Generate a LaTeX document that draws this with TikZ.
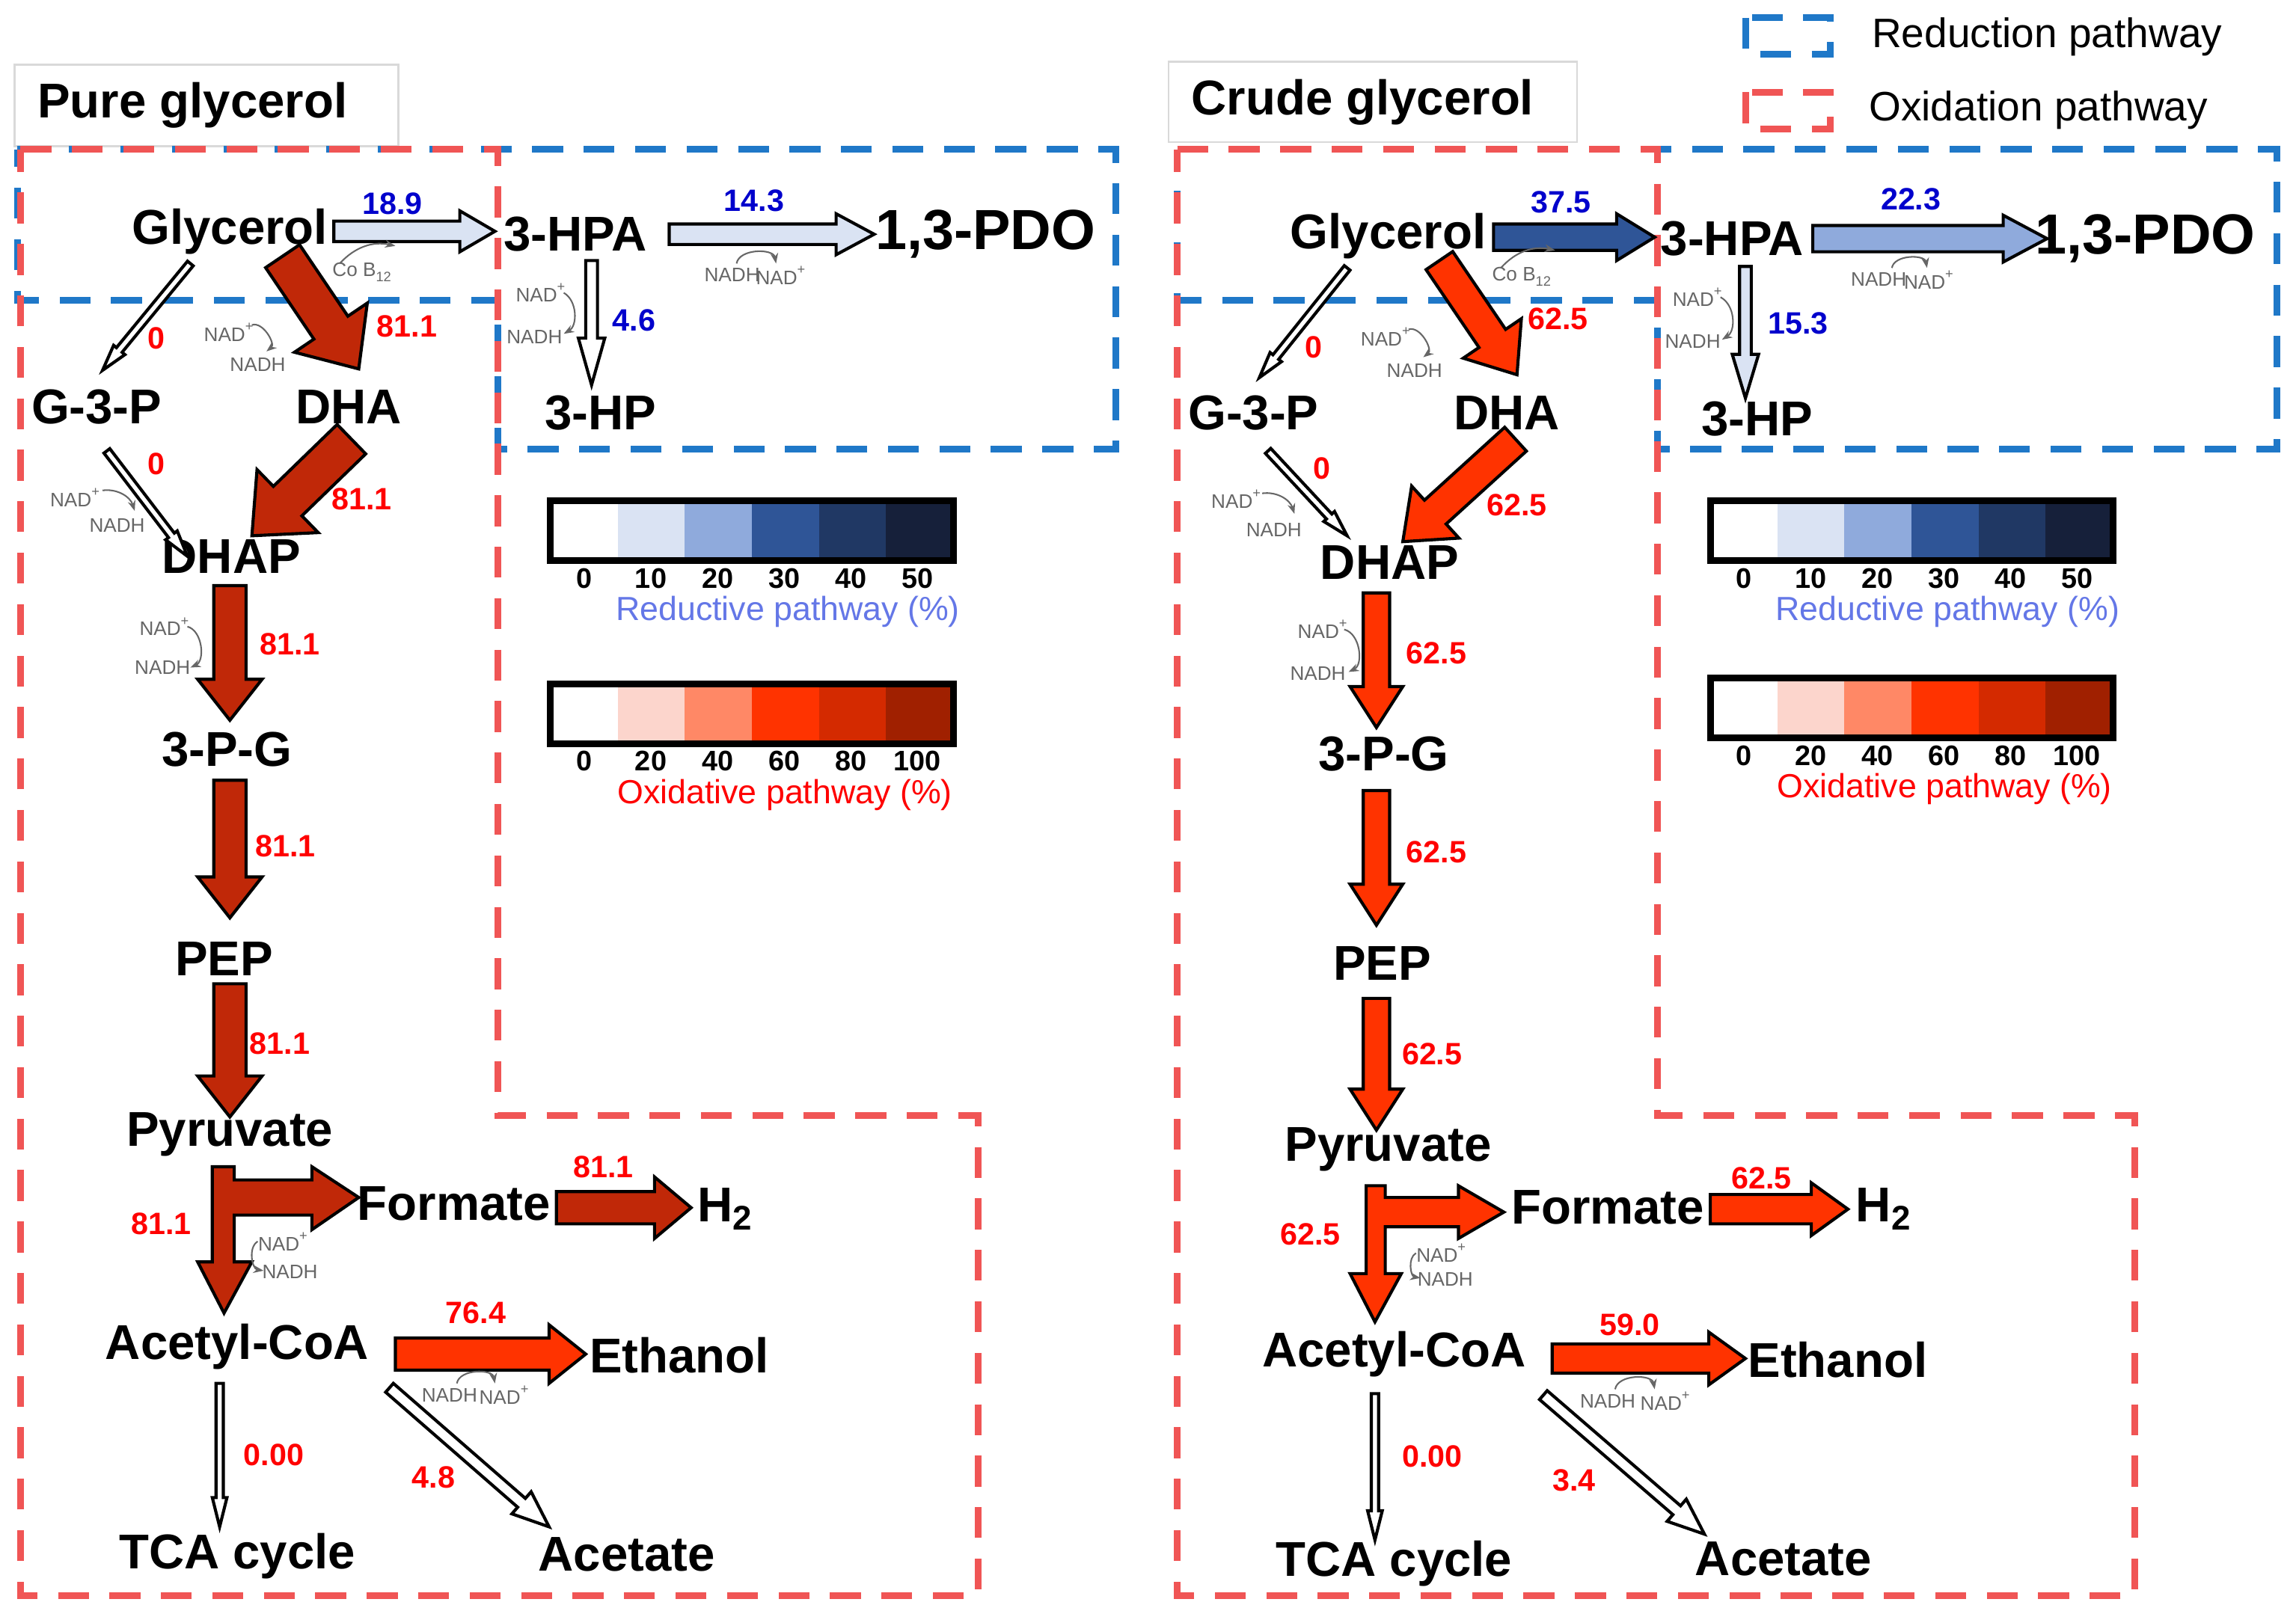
\documentclass[tikz,border=0pt]{standalone}
\usepackage{fontspec}
\setmainfont{Liberation Sans}
\usetikzlibrary{arrows.meta}
\definecolor{dred}{HTML}{C02808}
\definecolor{ored}{HTML}{FF3300}
\definecolor{b1}{HTML}{DAE3F3}\definecolor{b2}{HTML}{8FAADC}\definecolor{b3}{HTML}{2F5597}
\definecolor{b4}{HTML}{203864}\definecolor{b5}{HTML}{16203A}
\definecolor{r1}{HTML}{FCD5CC}\definecolor{r2}{HTML}{FF8866}\definecolor{r3}{HTML}{FF3300}
\definecolor{r4}{HTML}{D42A00}\definecolor{r5}{HTML}{A02000}
\definecolor{dblue}{HTML}{1F78C8}\definecolor{dredd}{HTML}{F05555}
\newcommand\barr[8]{%
 \pgfmathsetmacro\bdx{#3-#1}\pgfmathsetmacro\bdy{#4-#2}%
 \pgfmathsetmacro\blen{veclen(\bdx,\bdy)}\pgfmathsetmacro\bang{atan2(-\bdy,\bdx)}%
 \pgfmathsetmacro\bb{\blen-#7}%
 \begin{scope}[shift={(#1,#2)},rotate=\bang]
 \draw[fill=#8,line width=0.6pt,line join=miter] (0,-#5)--(\bb,-#5)--(\bb,-#6)--(\blen,0)--(\bb,#6)--(\bb,#5)--(0,#5)--cycle;
 \end{scope}}
\newcommand\nadp{NAD\textsuperscript{+}}
\tikzset{
 met/.style={font=\fontsize{9.5}{10}\selectfont\bfseries, inner sep=0pt},
 rl/.style={font=\fontsize{6}{6}\selectfont\bfseries, text=red, inner sep=0pt},
 bl/.style={font=\fontsize{6}{6}\selectfont\bfseries, text=blue!80!black, inner sep=0pt},
 cf/.style={font=\fontsize{3.8}{4}\selectfont, text=gray!80!black, inner sep=0pt},
 tk/.style={font=\fontsize{5.5}{6}\selectfont\bfseries, inner sep=0pt},
 redd/.style={draw=dredd, line width=1.3pt, dash pattern=on 6pt off 4pt},
 blud/.style={draw=dblue, line width=1.3pt, dash pattern=on 6pt off 4pt},
 cfa/.style={gray!80!black, line width=0.3pt, -{Stealth[length=2pt]}},
 ttl/.style={font=\fontsize{9.5}{10}\selectfont\bfseries, draw=gray!30, minimum height=5.5mm, anchor=north west, inner sep=0pt, align=left}
}
\begin{document}
\begin{tikzpicture}[x=0.1mm,y=-0.1mm]
\useasboundingbox (0,0) rectangle (1568,1100.5);
% ================= LEGEND
\draw[blud] (1192,12) rectangle (1250,37);
\node[anchor=west,font=\fontsize{8}{8}\selectfont] (legr) at (1266,25) {Reduction pathway};
\draw[redd] (1192,63) rectangle (1250,88);
\node[anchor=west,font=\fontsize{8}{8}\selectfont] (lego) at (1264,75) {Oxidation pathway};

% ================= PANELS
\draw[gray!30] (10,44) rectangle (272,100);
\node[anchor=west,font=\fontsize{9.5}{10}\selectfont\bfseries,inner sep=0pt] (t1) at (25,72) {Pure glycerol};
\draw[gray!30] (798,42) rectangle (1077,97);
\node[anchor=west,font=\fontsize{9.5}{10}\selectfont\bfseries,inner sep=0pt] (t2) at (813,70) {Crude glycerol};
\draw[blud] (12,102)--(762,102)--(762,307)--(340,307)--(340,205)--(12,205)--cycle;
\draw[redd] (14,102)--(340,102)--(340,762)--(668,762)--(668,1090)--(14,1090)--cycle;
\draw[blud] (804,102)--(1555,102)--(1555,307)--(1132,307)--(1132,205)--(804,205)--cycle;
\draw[redd] (804,102)--(1132,102)--(1132,762)--(1458,762)--(1458,1090)--(804,1090)--cycle;

% ================= LEFT PANEL
\node[met] (gly) at (157,158) {Glycerol};
\node[met] (hpa) at (393,160) {3-HPA};
\node[met,font=\fontsize{11}{11}\selectfont\bfseries] (pdo) at (673,160) {1,3-PDO};
\node[met] (hp) at (410,282) {3-HP};
\node[met] (g3p) at (66,278) {G-3-P};
\node[met] (dha) at (238,278) {DHA};
\node[met] (dhap) at (158,380) {DHAP};
\node[met] (pg) at (155,512) {3-P-G};
\node[met] (pep) at (153,655) {PEP};
\node[met] (pyr) at (157,775) {Pyruvate};
\node[met] (for) at (310,822) {Formate};
\node[met] (h2) at (496,826) {H\textsubscript{2}};
\node[met] (aco) at (162,920) {Acetyl-CoA};
\node[met] (eth) at (464,926) {Ethanol};
\node[met] (tca) at (162,1063) {TCA cycle};
\node[met] (ace) at (428,1062) {Acetate};

\barr{228}{158}{338}{158}{7}{14}{24}{b1}
\barr{457}{160}{597}{160}{7}{14}{26}{b1}
\barr{404}{178}{404}{263}{4}{9}{32}{white}
\barr{193}{175}{245}{252}{14}{30}{34}{dred}
\barr{130}{180}{70}{253}{2.5}{5}{18}{white}
\barr{73}{308}{128}{380}{2.5}{5}{18}{white}
\barr{240}{300}{172}{366}{14}{30}{34}{dred}
\barr{157}{400}{157}{492}{11}{22}{28}{dred}
\barr{157}{533}{157}{627}{11}{22}{28}{dred}
\barr{157}{672}{157}{763}{11}{22}{28}{dred}
\draw[fill=dred,line width=0.6pt,line join=miter] (145,797)--(160,797)--(160,806)--(213,806)--(213,797)--(245,818)--(213,840)--(213,830)--(160,830)--(160,862)--(172,862)--(153,897)--(135,862)--(145,862)--cycle;
\barr{380}{825}{472}{825}{11}{21}{25}{dred}
\barr{270}{925}{400}{925}{11}{20}{25}{ored}
\barr{150}{945}{150}{1043}{2.5}{5}{20}{white}
\barr{266}{948}{375}{1043}{4}{10}{25}{white}

\node[bl] (l1) at (268,139) {18.9};
\node[bl] (l2) at (515,137) {14.3};
\node[bl] (l3) at (433,219) {4.6};
\node[rl] (l4) at (278,223) {81.1};
\node[rl] (l5) at (107,231) {0};
\node[rl] (l6) at (107,317) {0};
\node[rl] (l7) at (247,341) {81.1};
\node[rl] (l8) at (198,440) {81.1};
\node[rl] (l9) at (195,578) {81.1};
\node[rl] (l10) at (191,713) {81.1};
\node[rl] (l11) at (110,836) {81.1};
\node[rl] (l12) at (412,797) {81.1};
\node[rl] (l13) at (325,897) {76.4};
\node[rl] (l14) at (187,994) {0.00};
\node[rl] (l15) at (296,1009) {4.8};

\node[cf] (co1) at (248,186) {Co B\textsubscript{12}};
\draw[cfa] (232,180) to[bend left=30] (270,168);
\node[cf] (c1a) at (500,188) {NADH};
\node[cf] (c1b) at (534,188) {\nadp};
\draw[cfa] (503,180) to[bend left=80] (530,180);
\node[cf] (c2a) at (370,200) {\nadp};
\node[cf] (c2b) at (365,230) {NADH};
\draw[cfa] (385,200) to[bend left=60] (385,228);
\node[cf] (c3a) at (157,227) {\nadp};
\node[cf] (c3b) at (176,249) {NADH};
\draw[cfa] (172,222) to[bend left=80] (182,240);
\node[cf] (c4a) at (52,340) {\nadp};
\node[cf] (c4b) at (80,359) {NADH};
\draw[cfa] (70,335) to[bend left=40] (92,349);
\node[cf] (c5a) at (113,428) {\nadp};
\node[cf] (c5b) at (111,456) {NADH};
\draw[cfa] (128,428) to[bend left=70] (130,456);
\node[cf] (c6a) at (194,848) {\nadp};
\node[cf] (c6b) at (198,869) {NADH};
\draw[cfa] (176,848) to[bend right=70] (180,868);
\node[cf] (c7a) at (307,953) {NADH};
\node[cf] (c7b) at (345,953) {\nadp};
\draw[cfa] (312,945) to[bend left=80] (338,945);

% ================= RIGHT PANEL
\node[met] (gly2) at (948,161) {Glycerol};
\node[met] (hpa2) at (1183,163) {3-HPA};
\node[met,font=\fontsize{11}{11}\selectfont\bfseries] (pdo2) at (1465,163) {1,3-PDO};
\node[met] (hp2) at (1200,286) {3-HP};
\node[met] (g3p2) at (856,282) {G-3-P};
\node[met] (dha2) at (1029,282) {DHA};
\node[met] (dhap2) at (949,384) {DHAP};
\node[met] (pg2) at (945,515) {3-P-G};
\node[met] (pep2) at (944,658) {PEP};
\node[met] (pyr2) at (948,785) {Pyruvate};
\node[met] (for2) at (1098,825) {Formate};
\node[met] (h22) at (1287,826) {H\textsubscript{2}};
\node[met] (aco2) at (952,925) {Acetyl-CoA};
\node[met] (eth2) at (1255,929) {Ethanol};
\node[met] (tca2) at (952,1068) {TCA cycle};
\node[met] (ace2) at (1218,1065) {Acetate};

\barr{1020}{162}{1130}{162}{9}{16}{26}{b3}
\barr{1238}{163}{1398}{163}{9}{16}{30}{b2}
\barr{1192}{182}{1192}{272}{4}{9}{30}{b1}
\barr{983}{178}{1036}{256}{11}{24}{30}{ored}
\barr{920}{183}{860}{258}{2.5}{5}{18}{white}
\barr{866}{308}{920}{366}{2.5}{5}{18}{white}
\barr{1035}{300}{958}{370}{11}{24}{30}{ored}
\barr{940}{405}{940}{497}{9}{18}{28}{ored}
\barr{940}{540}{940}{632}{9}{18}{28}{ored}
\barr{940}{682}{940}{772}{9}{18}{28}{ored}
\draw[fill=ored,line width=0.6pt,line join=miter] (933,810)--(946,810)--(946,818)--(996,818)--(996,810)--(1027,828)--(996,846)--(996,838)--(946,838)--(946,870)--(957,870)--(939,903)--(922,870)--(933,870)--cycle;
\barr{1168}{826}{1262}{826}{10}{18}{25}{ored}
\barr{1060}{928}{1192}{928}{10}{18}{25}{ored}
\barr{939}{952}{939}{1052}{2.5}{5}{20}{white}
\barr{1054}{953}{1164}{1048}{4}{10}{25}{white}

\node[bl] (m1) at (1066,138) {37.5};
\node[bl] (m2) at (1305,136) {22.3};
\node[bl] (m3) at (1228,221) {15.3};
\node[rl] (m4) at (1064,218) {62.5};
\node[rl] (m5) at (897,237) {0};
\node[rl] (m6) at (903,320) {0};
\node[rl] (m7) at (1036,345) {62.5};
\node[rl] (m8) at (981,446) {62.5};
\node[rl] (m9) at (981,582) {62.5};
\node[rl] (m10) at (978,720) {62.5};
\node[rl] (m11) at (895,843) {62.5};
\node[rl] (m12) at (1203,805) {62.5};
\node[rl] (m13) at (1113,905) {59.0};
\node[rl] (m14) at (978,995) {0.00};
\node[rl] (m15) at (1075,1011) {3.4};

\node[cf] (d0) at (1040,189) {Co B\textsubscript{12}};
\draw[cfa] (1025,183) to[bend left=30] (1062,171);
\node[cf] (d1a) at (1283,191) {NADH};
\node[cf] (d1b) at (1318,191) {\nadp};
\draw[cfa] (1292,183) to[bend left=80] (1316,183);
\node[cf] (d2a) at (1160,203) {\nadp};
\node[cf] (d2b) at (1156,233) {NADH};
\draw[cfa] (1175,203) to[bend left=60] (1176,232);
\node[cf] (d3a) at (947,230) {\nadp};
\node[cf] (d3b) at (966,253) {NADH};
\draw[cfa] (962,225) to[bend left=80] (972,244);
\node[cf] (d4a) at (845,341) {\nadp};
\node[cf] (d4b) at (870,362) {NADH};
\draw[cfa] (862,337) to[bend left=40] (884,351);
\node[cf] (d5a) at (904,430) {\nadp};
\node[cf] (d5b) at (900,460) {NADH};
\draw[cfa] (918,430) to[bend left=70] (921,459);
\node[cf] (d6a) at (985,856) {\nadp};
\node[cf] (d6b) at (987,874) {NADH};
\draw[cfa] (967,856) to[bend right=70] (970,873);
\node[cf] (d7a) at (1098,957) {NADH};
\node[cf] (d7b) at (1138,957) {\nadp};
\draw[cfa] (1103,949) to[bend left=80] (1130,949);

% ================= COLOUR BARS
\foreach \bx/\ry/\oyy in {376/342/467, 1168/342/463}{
 \foreach \c [count=\i from 0] in {white,b1,b2,b3,b4,b5}{
  \fill[\c] ({\bx+\i*45.8},\ry) rectangle ({\bx+(\i+1)*45.8},\ry+41);
 }
 \draw[line width=1.3pt] (\bx,\ry) rectangle (\bx+275,\ry+41);
 \foreach \t [count=\i from 0] in {0,10,20,30,40,50}{
  \node[tk] at ({\bx+23+\i*45.5},\ry+53) {\t};
 }
 \node[font=\fontsize{6.5}{7}\selectfont, text=b2!70!blue, inner sep=0pt] at (\bx+162,\ry+76) {Reductive pathway (\%)};
 \foreach \c [count=\i from 0] in {white,r1,r2,r3,r4,r5}{
  \fill[\c] ({\bx+\i*45.8},\oyy) rectangle ({\bx+(\i+1)*45.8},\oyy+41);
 }
 \draw[line width=1.3pt] (\bx,\oyy) rectangle (\bx+275,\oyy+41);
 \foreach \t [count=\i from 0] in {0,20,40,60,80,100}{
  \node[tk] at ({\bx+23+\i*45.5},\oyy+53) {\t};
 }
 \node[font=\fontsize{6.5}{7}\selectfont, text=red, inner sep=0pt] at (\bx+160,\oyy+76) {Oxidative pathway (\%)};
}
\end{tikzpicture}
\end{document}
